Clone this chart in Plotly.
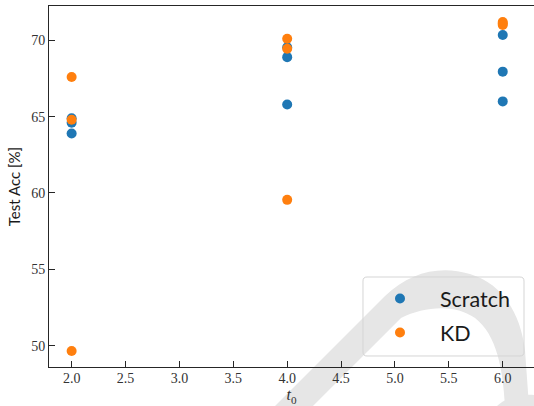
import plotly.graph_objects as go

# Test accuracy versus the start time t0, for training from scratch and with KD
t0_values = [2.0, 2.0, 2.0, 4.0, 4.0, 4.0, 6.0, 6.0, 6.0]
scratch_acc = [64.9, 64.6, 63.9, 69.55, 68.9, 65.8, 70.35, 67.95, 66.0]
kd_acc = [67.6, 64.8, 49.65, 70.1, 69.45, 59.55, 71.2, 71.1, 71.0]

x_ticks = [2.0, 2.5, 3.0, 3.5, 4.0, 4.5, 5.0, 5.5, 6.0]
y_ticks = [50, 55, 60, 65, 70]

BLUE = "#1f77b4"
ORANGE = "#ff7f0e"
AXIS = "#262626"

W, H = 534, 406
ML, MR, MT, MB = 49, 0, 6, 39
PW, PH = W - ML - MR, H - MT - MB


def to_paper(px, py):
    return (px - ML) / PW, (H - MB - py) / PH


def svg_path(segments):
    parts = []
    for cmd, pts in segments:
        coords = " ".join("%.4f,%.4f" % to_paper(x, y) for x, y in pts)
        parts.append(cmd + " " + coords if pts else cmd)
    return " ".join(parts)


# pale background mark behind the data
mark_main = svg_path([
    ("M", [(275, 406)]),
    ("L", [(385, 296)]),
    ("C", [(410, 272), (440, 265), (470, 274)]),
    ("C", [(500, 283), (520, 310), (525, 350)]),
    ("L", [(529, 406)]),
    ("L", [(505, 406)]),
    ("C", [(503, 370), (497, 335), (475, 318)]),
    ("C", [(455, 304), (425, 306), (401, 318)]),
    ("L", [(313, 406)]),
    ("Z", []),
])
mark_corner = svg_path([
    ("M", [(497, 406)]),
    ("C", [(505, 398), (520, 394), (534, 395)]),
    ("L", [(534, 406)]),
    ("Z", []),
])

# rounded frame around the legend entries
bx0, by0, bx1, by1, rad = 363, 277, 524, 356, 4
legend_frame = svg_path([
    ("M", [(bx0 + rad, by0)]),
    ("L", [(bx1 - rad, by0)]),
    ("Q", [(bx1, by0), (bx1, by0 + rad)]),
    ("L", [(bx1, by1 - rad)]),
    ("Q", [(bx1, by1), (bx1 - rad, by1)]),
    ("L", [(bx0 + rad, by1)]),
    ("Q", [(bx0, by1), (bx0, by1 - rad)]),
    ("L", [(bx0, by0 + rad)]),
    ("Q", [(bx0, by0), (bx0 + rad, by0)]),
    ("Z", []),
])

fig = go.Figure()
fig.add_trace(go.Scatter(
    x=t0_values, y=scratch_acc, mode="markers", name="Scratch",
    legendgroup="scratch",
    marker=dict(color=BLUE, size=10, line=dict(width=0)),
))
fig.add_trace(go.Scatter(
    x=t0_values, y=kd_acc, mode="markers", name="KD",
    legendgroup="kd",
    marker=dict(color=ORANGE, size=10, line=dict(width=0)),
))

tick_font = dict(family="Liberation Serif", size=14, color="#333333")

fig.update_layout(
    width=W, height=H,
    margin=dict(l=ML, r=MR, t=MT, b=MB, pad=0),
    paper_bgcolor="white",
    plot_bgcolor="rgba(0,0,0,0)",
    showlegend=True,
    legend=dict(
        x=(360 - ML) / PW, y=(H - MB - 278) / PH,
        xanchor="left", yanchor="top",
        bgcolor="rgba(255,255,255,0)",
        borderwidth=0,
        font=dict(family="Lato", size=21.5, color="#1a1a1a"),
        traceorder="grouped", tracegroupgap=3,
        itemwidth=70,
    ),
    shapes=[
        dict(type="path", path=mark_main, xref="paper", yref="paper",
             fillcolor="#e6e6e6", line=dict(width=0), layer="below"),
        dict(type="path", path=mark_corner, xref="paper", yref="paper",
             fillcolor="#e6e6e6", line=dict(width=0), layer="below"),
        dict(type="path", path=legend_frame, xref="paper", yref="paper",
             fillcolor="rgba(0,0,0,0)", line=dict(color="#d5d5d5", width=1),
             layer="above"),
    ],
    xaxis=dict(
        range=[1.79, 6.29],
        tickvals=x_ticks,
        ticktext=["%.1f" % v for v in x_ticks],
        ticks="inside", ticklen=6, tickwidth=1, tickcolor=AXIS,
        showline=True, linecolor=AXIS, linewidth=1, mirror=True,
        showgrid=False, zeroline=False,
        tickfont=tick_font,
        ticklabelstandoff=-2,
        title=dict(text="<i>t</i><sub>0</sub>",
                   font=dict(family="Liberation Serif", size=16, color="#333333"),
                   standoff=4),
    ),
    yaxis=dict(
        range=[48.6, 72.25],
        tickvals=y_ticks,
        ticktext=[str(v) for v in y_ticks],
        ticks="inside", ticklen=6, tickwidth=1, tickcolor=AXIS,
        showline=True, linecolor=AXIS, linewidth=1, mirror=False,
        showgrid=False, zeroline=False,
        tickfont=tick_font,
        title=dict(text="Test Acc [%]",
                   font=dict(family="Lato", size=15, color="#1a1a1a"),
                   standoff=6),
    ),
)

fig.write_html("out.html")
